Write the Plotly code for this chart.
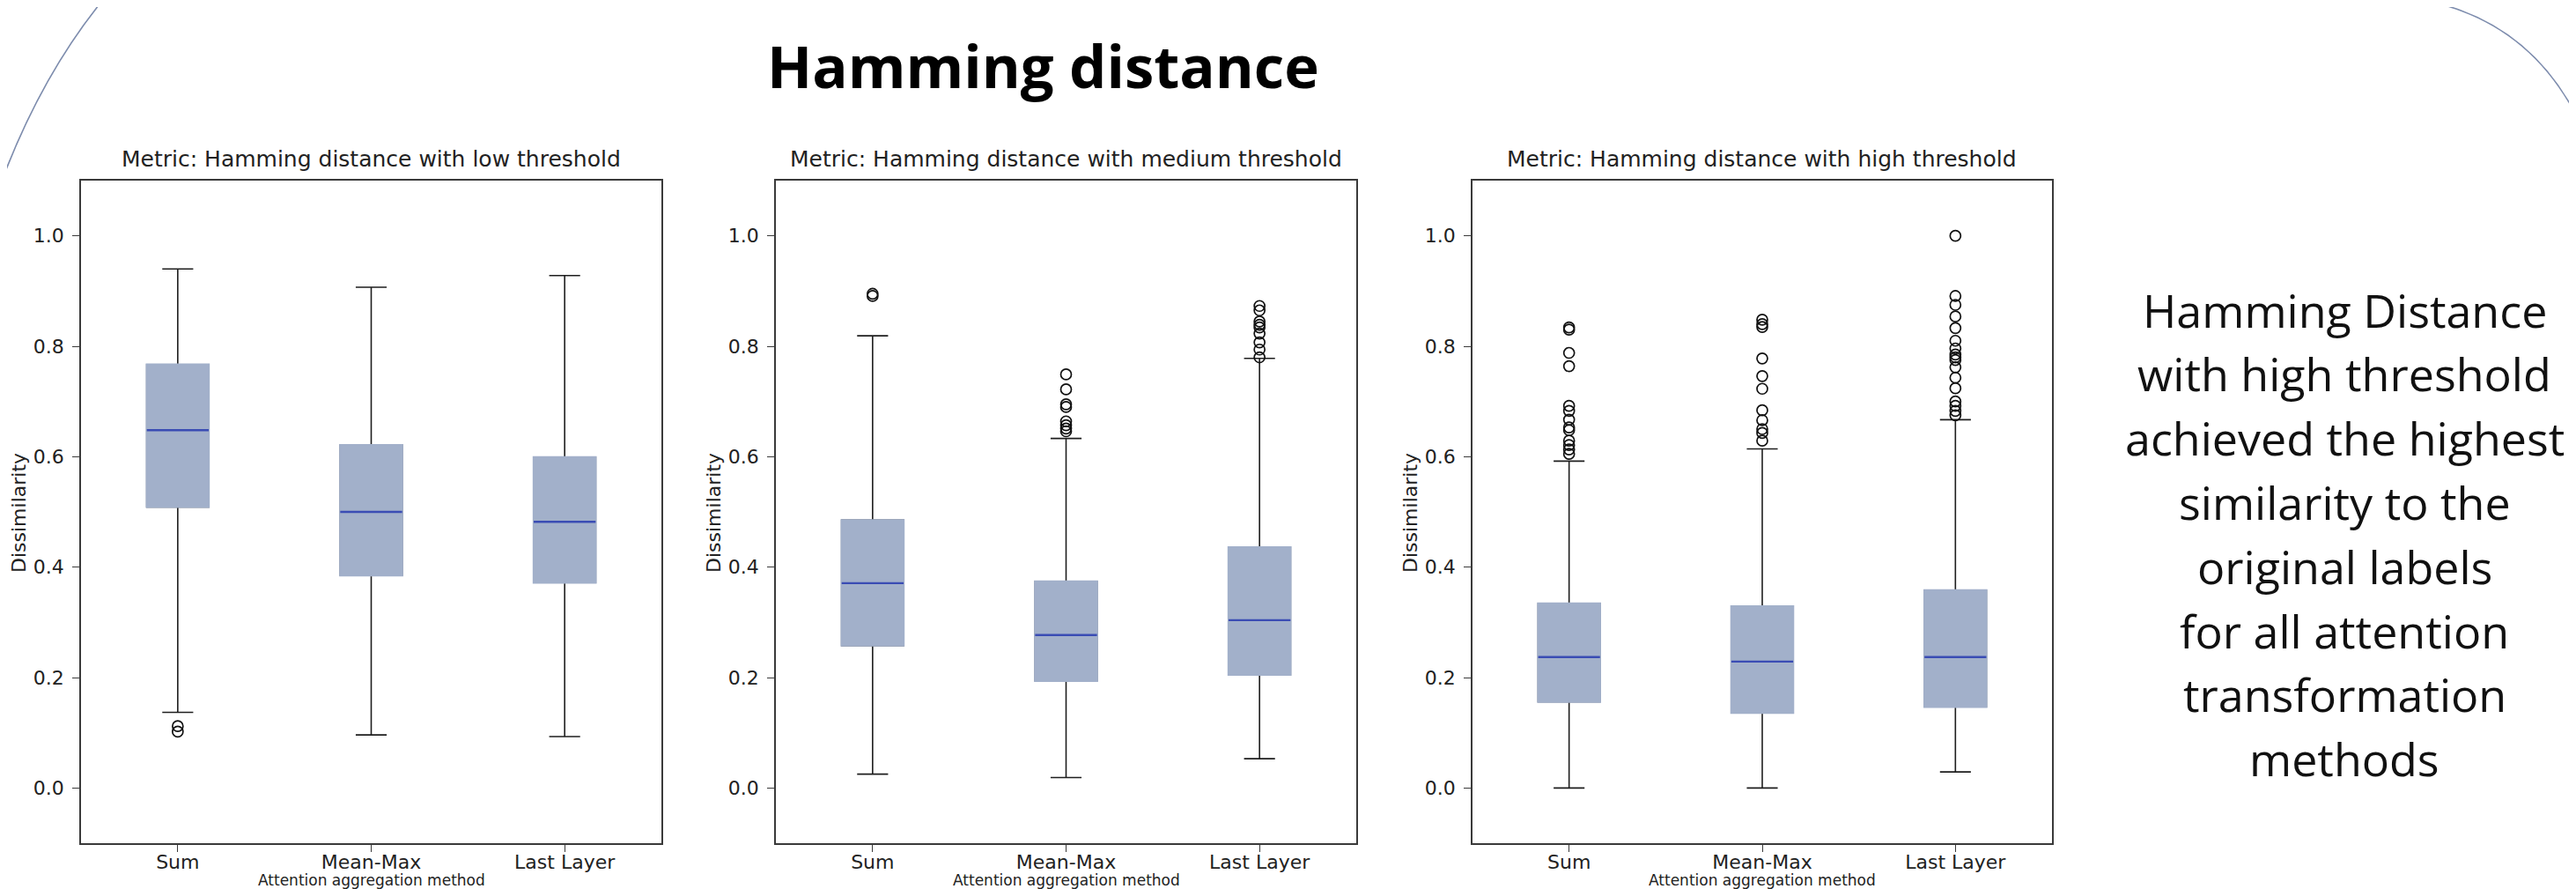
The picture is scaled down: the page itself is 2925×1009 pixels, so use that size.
import plotly.graph_objects as go

# ---------------- data ----------------
categories = ["Sum", "Mean-Max", "Last Layer"]
positions = [1, 2, 3]
panel_titles = [
    "Metric: Hamming distance with low threshold",
    "Metric: Hamming distance with medium threshold",
    "Metric: Hamming distance with high threshold",
]
main_title = "Hamming distance"
y_title = "Dissimilarity"
x_title = "Attention aggregation method"
y_tick_vals = [0.0, 0.2, 0.4, 0.6, 0.8, 1.0]

# low threshold
low_q1 = [0.509, 0.385, 0.372]
low_med = [0.648, 0.500, 0.482]
low_q3 = [0.767, 0.621, 0.599]
low_lo = [0.137, 0.096, 0.093]
low_hi = [0.940, 0.907, 0.928]
low_out_sum = [0.112, 0.102]
low_out_mm = []
low_out_ll = []

# medium threshold
med_q1 = [0.258, 0.194, 0.205]
med_med = [0.371, 0.277, 0.304]
med_q3 = [0.485, 0.374, 0.436]
med_lo = [0.025, 0.019, 0.053]
med_hi = [0.819, 0.633, 0.778]
med_out_sum = [0.891, 0.895]
med_out_mm = [0.749, 0.722, 0.695, 0.690, 0.664, 0.657, 0.651, 0.646]
med_out_ll = [0.873, 0.865, 0.845, 0.839, 0.834, 0.823, 0.807, 0.794, 0.780]

# high threshold
high_q1 = [0.156, 0.136, 0.147]
high_med = [0.237, 0.229, 0.237]
high_q3 = [0.334, 0.329, 0.358]
high_lo = [0.0, 0.0, 0.029]
high_hi = [0.592, 0.614, 0.667]
high_out_sum = [0.834, 0.830, 0.788, 0.764, 0.692, 0.683, 0.667, 0.653, 0.648,
                0.629, 0.621, 0.613, 0.605]
high_out_mm = [0.848, 0.840, 0.835, 0.778, 0.746, 0.723, 0.684, 0.666, 0.650,
               0.643, 0.629]
high_out_ll = [1.0, 0.891, 0.875, 0.854, 0.833, 0.810, 0.796, 0.785, 0.780,
               0.775, 0.762, 0.743, 0.724, 0.700, 0.692, 0.683, 0.675]

side_text_lines = [
    "Hamming Distance",
    "with high threshold",
    "achieved the highest",
    "similarity to the",
    "original labels",
    "for all attention",
    "transformation",
    "methods",
]

panels = [
    (low_q1, low_med, low_q3, low_lo, low_hi, [low_out_sum, low_out_mm, low_out_ll]),
    (med_q1, med_med, med_q3, med_lo, med_hi, [med_out_sum, med_out_mm, med_out_ll]),
    (high_q1, high_med, high_q3, high_lo, high_hi, [high_out_sum, high_out_mm, high_out_ll]),
]

# ---------------- layout constants ----------------
W, H = 2925, 1009
def px(x):
    return x / W
def py(y):
    return 1 - y / H

panel_px = [(84, 743), (873, 1532), (1664, 2322)]
plot_top, plot_bot = 197, 949

BOX_FILL = "#a2b0ca"
MEDIAN = "#3a4cb4"
WHISK = "#1e1e1e"
FRAME = "#3a3a3a"
TXT = "#222222"
TICK_FONT = dict(family="DejaVu Sans", size=22, color=TXT)

fig = go.Figure()

for i, (q1, med, q3, lo, hi, outs) in enumerate(panels):
    sfx = "" if i == 0 else str(i + 1)
    xa, ya = "x" + sfx, "y" + sfx
    common = dict(x=positions, xaxis=xa, yaxis=ya, showlegend=False,
                  hoverinfo="skip", boxpoints=False, width=0.32)
    # whiskers + caps
    fig.add_trace(go.Box(q1=q1, median=med, q3=q3, lowerfence=lo, upperfence=hi,
                         whiskerwidth=0.5, fillcolor="rgba(0,0,0,0)",
                         line=dict(color=WHISK, width=1.6), **common))
    # filled box without outline
    fig.add_trace(go.Box(q1=q1, median=med, q3=q3, lowerfence=q1, upperfence=q3,
                         whiskerwidth=0, fillcolor=BOX_FILL,
                         line=dict(color=BOX_FILL, width=2.4), **common))
    # median line
    fig.add_trace(go.Box(q1=med, median=med, q3=med, lowerfence=med, upperfence=med,
                         whiskerwidth=0, fillcolor="rgba(0,0,0,0)",
                         line=dict(color=MEDIAN, width=2.4), **common))
    # outliers
    ox, oy = [], []
    for p, vals in zip(positions, outs):
        ox += [p] * len(vals)
        oy += vals
    fig.add_trace(go.Scatter(x=ox, y=oy, mode="markers", xaxis=xa, yaxis=ya,
                             showlegend=False, hoverinfo="skip",
                             marker=dict(symbol="circle-open", size=12, color="#111111",
                                         line=dict(width=1.7, color="#111111"))))

    x0, x1 = panel_px[i]
    axis_common = dict(showline=True, mirror=True, linecolor=FRAME, linewidth=1.5,
                       showgrid=False, zeroline=False, ticks="outside", ticklen=8,
                       tickwidth=1.4, tickcolor=FRAME, tickfont=TICK_FONT)
    fig.update_layout(**{
        "xaxis" + sfx: dict(domain=[px(x0), px(x1)], range=[0.5, 3.5],
                            tickvals=positions, ticktext=categories,
                            ticklabelstandoff=-7,
                            anchor=ya, **axis_common),
        "yaxis" + sfx: dict(domain=[py(plot_bot), py(plot_top)], range=[-0.1, 1.1],
                            tickvals=y_tick_vals, tickformat=".1f",
                            ticklabelstandoff=5,
                            anchor=xa, **axis_common),
    })

annotations = []
# main title
annotations.append(dict(text="<b>" + main_title + "</b>", x=px(1176), y=py(66),
                        xref="paper", yref="paper", showarrow=False,
                        xanchor="center", yanchor="middle",
                        font=dict(family="Open Sans", size=67, color="#000000")))
for i, (x0, x1) in enumerate(panel_px):
    cx = (x0 + x1) / 2
    annotations.append(dict(text=panel_titles[i], x=px(cx), y=py(173),
                            xref="paper", yref="paper", showarrow=False,
                            xanchor="center", yanchor="middle",
                            font=dict(family="DejaVu Sans", size=25, color=TXT)))
    annotations.append(dict(text=y_title, x=px(x0 - 71), y=py(574), textangle=-90,
                            xref="paper", yref="paper", showarrow=False,
                            xanchor="center", yanchor="middle",
                            font=dict(family="DejaVu Sans", size=22, color=TXT)))
    annotations.append(dict(text=x_title, x=px(cx), y=py(1002), borderpad=0,
                            xref="paper", yref="paper", showarrow=False,
                            xanchor="center", yanchor="bottom",
                            font=dict(family="DejaVu Sans", size=17, color=TXT)))

line_y0, line_dy = 343, 72.8
for k, line in enumerate(side_text_lines):
    annotations.append(dict(text=line, x=px(2654), y=py(line_y0 + k * line_dy),
                            xref="paper", yref="paper", showarrow=False,
                            xanchor="center", yanchor="middle",
                            font=dict(family="Open Sans", size=52, color="#111111")))

shapes = [
    dict(type="path", xref="paper", yref="paper", layer="above",
         path=f"M {px(-4)},{py(192)} Q {px(39)},{py(80)} {px(104)},{py(-2)}",
         line=dict(color="#7d8cad", width=1.6)),
    dict(type="path", xref="paper", yref="paper", layer="above",
         path=f"M {px(2768)},{py(-2)} Q {px(2880)},{py(30)} {px(2930)},{py(150)}",
         line=dict(color="#7d8cad", width=1.6)),
]

fig.update_layout(width=W, height=H, margin=dict(l=0, r=0, t=0, b=0),
                  paper_bgcolor="white", plot_bgcolor="white",
                  boxmode="overlay", annotations=annotations, shapes=shapes)

fig.write_html("out.html")
